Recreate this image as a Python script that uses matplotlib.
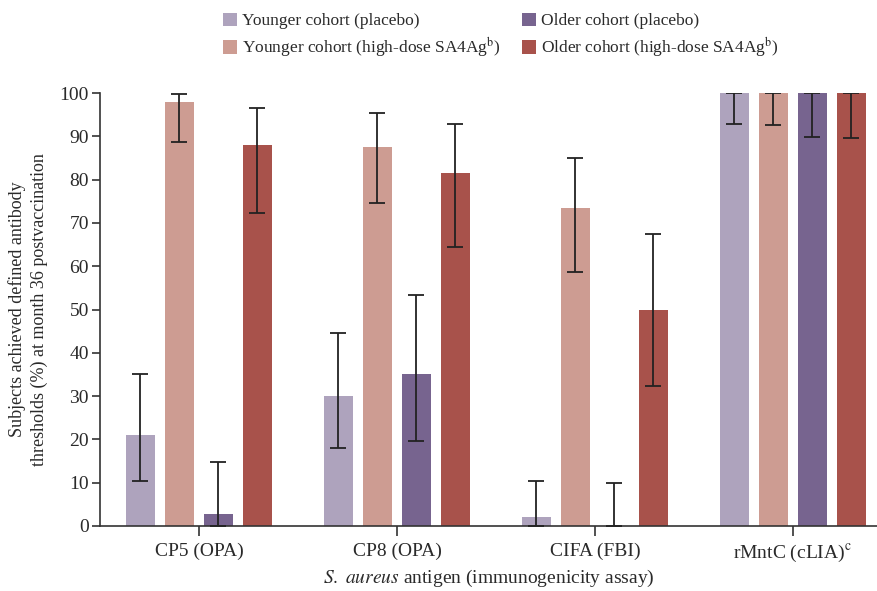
import numpy as np
import matplotlib
matplotlib.use("Agg")
from matplotlib import pyplot as plt

plt.rcParams['font.family'] = ['Liberation Serif', 'DejaVu Serif']
plt.rcParams['mathtext.fontset'] = 'stix'

antigens = ['CP5 (OPA)', 'CP8 (OPA)', 'CIFA (FBI)', r'rMntC (cLIA)$^{\mathrm{c}}$']
groups = ['Younger cohort (placebo)',
          r'Younger cohort (high-dose SA4Ag$^{\mathrm{b}}$)',
          'Older cohort (placebo)',
          r'Older cohort (high-dose SA4Ag$^{\mathrm{b}}$)']

# percentages per group, per antigen
young_placebo = [21.0, 30.0, 2.1, 100.0]
young_placebo_lo = [10.5, 17.9, 0.0, 92.9]
young_placebo_hi = [35.0, 44.5, 10.4, 100.0]

young_sa4ag = [98.0, 87.5, 73.4, 100.0]
young_sa4ag_lo = [88.8, 74.7, 58.7, 92.6]
young_sa4ag_hi = [99.8, 95.3, 85.0, 100.0]

old_placebo = [2.8, 35.1, 0.0, 100.0]
old_placebo_lo = [0.0, 19.6, 0.0, 89.8]
old_placebo_hi = [14.8, 53.3, 9.9, 100.0]

old_sa4ag = [88.0, 81.5, 49.9, 100.0]
old_sa4ag_lo = [72.4, 64.5, 32.3, 89.5]
old_sa4ag_hi = [96.6, 92.8, 67.4, 100.0]

colors = ['#AEA3BD', '#CD9C92', '#77648F', '#A8524B']

series = [(young_placebo, young_placebo_lo, young_placebo_hi),
          (young_sa4ag, young_sa4ag_lo, young_sa4ag_hi),
          (old_placebo, old_placebo_lo, old_placebo_hi),
          (old_sa4ag, old_sa4ag_lo, old_sa4ag_hi)]

fig = plt.figure(figsize=(8.78, 5.91), dpi=100)
ax = fig.add_axes([0.1139, 0.11, 0.8861, 0.7326])

x = np.arange(len(antigens))
w = 0.146
step = 0.197
for k, (vals, lo, hi) in enumerate(series):
    vals = np.array(vals)
    err = [vals - np.array(lo), np.array(hi) - vals]
    pos = x + (k - 1.5) * step
    ax.bar(pos, vals, width=w, color=colors[k], label=groups[k], zorder=2)
    ax.errorbar(pos, vals, yerr=err, fmt='none', ecolor='#222222',
                elinewidth=1.3, capsize=6, capthick=1.3, zorder=3)

txt = '#2a2a2a'
ax.set_xlim(-0.5, 3.43)
ax.set_ylim(0, 100)
ax.set_yticks(range(0, 101, 10))
ax.set_xticks(x)
ax.set_xticklabels(antigens, fontsize=14, color=txt)
ax.tick_params(axis='y', labelsize=14, labelcolor=txt, length=6,
               width=1.2, color='#333333', pad=2)
ax.tick_params(axis='x', length=7, width=1.2, color='#333333', pad=5)
for s in ['top', 'right']:
    ax.spines[s].set_visible(False)
for s in ['left', 'bottom']:
    ax.spines[s].set_color('#333333')
    ax.spines[s].set_linewidth(1.2)

ax.set_ylabel('Subjects achieved defined antibody\nthresholds (%) at month 36 postvaccination',
              fontsize=13, color=txt, labelpad=8, linespacing=1.35)
ax.set_xlabel(r'$\it{S.\ aureus}$ antigen (immunogenicity assay)',
              fontsize=14, color=txt, labelpad=3)

fig.legend(loc='upper left', bbox_to_anchor=(0.2365, 1.005), ncol=2, frameon=False,
           handlelength=0.8, handleheight=0.8, handletextpad=0.3,
           columnspacing=1.2, labelspacing=0.35, fontsize=12.5,
           labelcolor=txt)

plt.savefig('out.png', dpi=100)
